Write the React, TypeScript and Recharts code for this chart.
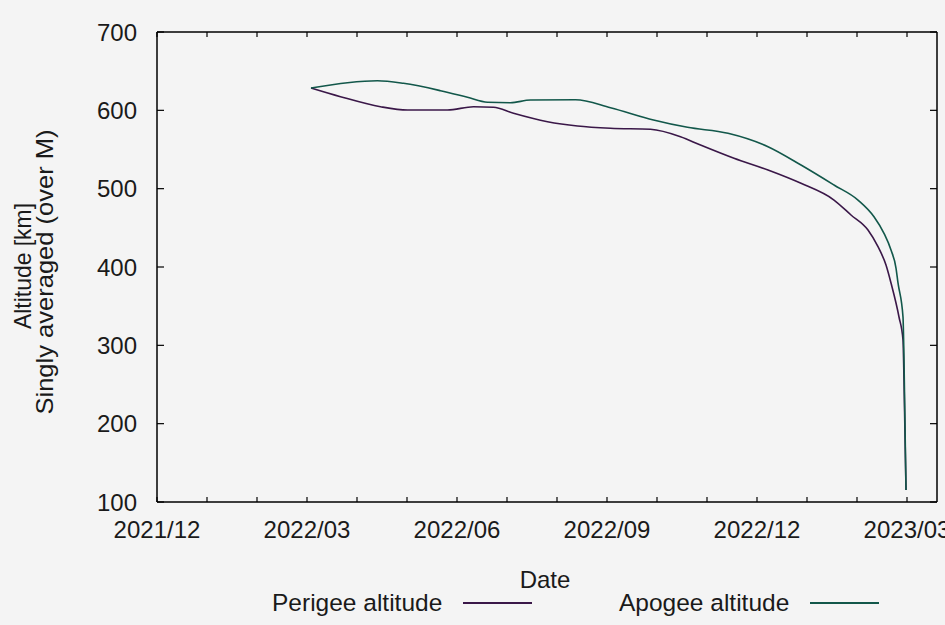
import React from "react"
import { Label, Line, LineChart, XAxis, YAxis } from "recharts"

// x = months since 2021/12/01
const perigeeMonths = [3.08, 3.67, 4.47, 5.01, 5.81, 6.33, 6.73, 7.13, 7.81, 8.41, 9.07, 9.87, 10.47, 10.87, 11.54, 12.22, 12.88, 13.54, 13.88, 14.22, 14.42, 14.58, 14.68, 14.84, 14.92, 14.94, 14.98]
const perigeeAlt = [628.5, 617.4, 604.6, 600.4, 600.4, 604.6, 603.9, 596.2, 585.5, 580.0, 577.1, 575.8, 566.3, 555.7, 538.8, 523.8, 506.8, 485.5, 466.4, 447.2, 425.9, 402.5, 379.6, 336.2, 306.8, 255.7, 115.3]

const apogeeMonths = [3.08, 3.81, 4.41, 4.93, 5.67, 6.21, 6.61, 7.07, 7.47, 8.37, 9.07, 9.93, 10.61, 11.42, 12.22, 12.88, 13.54, 14.02, 14.34, 14.54, 14.68, 14.78, 14.82, 14.92, 14.94, 14.98]
const apogeeAlt = [628.5, 635.3, 637.8, 634.5, 625.1, 616.6, 610.3, 609.7, 613.2, 613.6, 603.4, 587.7, 578.3, 570.7, 553.6, 530.2, 504.7, 485.5, 464.2, 443.0, 421.7, 398.7, 379.6, 336.2, 281.3, 115.3]

const xMinorTicks = [0, 1, 2, 3, 4, 5, 6, 7, 8, 9, 10, 11, 12, 13, 14, 15]
const xMajorTicks = [0, 3, 6, 9, 12, 15]
const xTickLabels = ["2021/12", "2022/03", "2022/06", "2022/09", "2022/12", "2023/03"]
const yTicks = [100, 200, 300, 400, 500, 600, 700]

const perigeeData = perigeeMonths.map((m, i) => ({ m, alt: perigeeAlt[i] }))
const apogeeData = apogeeMonths.map((m, i) => ({ m, alt: apogeeAlt[i] }))

// apogee is plotted on the mirrored (top/right) axes, which share the same domains
const series = [
  { name: "Perigee altitude", data: perigeeData, color: "#3a1748", left: 272, xAxis: "bottom", yAxis: "left" },
  { name: "Apogee altitude", data: apogeeData, color: "#12574a", left: 619, xAxis: "top", yAxis: "right" },
]

const FONT = "'Liberation Sans', Arial, sans-serif"
const TXT = "#1a1a1a"
const FS = 24
const X_DOMAIN = [0, 15.6]
const Y_DOMAIN = [100, 700]

const BottomTick = ({ x, y, payload }: any) => {
  const i = xMajorTicks.indexOf(payload.value)
  return (
    <g>
      <line x1={x} x2={x} y1={y} y2={y - 5} stroke="#000" strokeWidth={1.2} />
      {i >= 0 && (
        <text x={x} y={y + 27} textAnchor="middle" dominantBaseline="central" fontSize={FS} fontFamily={FONT} fill={TXT}>
          {xTickLabels[i]}
        </text>
      )}
    </g>
  )
}

const TopTick = ({ x, y }: any) => (
  <line x1={x} x2={x} y1={y} y2={y + 5} stroke="#000" strokeWidth={1.2} />
)

const LeftTick = ({ x, y, payload }: any) => (
  <g>
    <line x1={x} x2={x + 7} y1={y} y2={y} stroke="#000" strokeWidth={1.2} />
    <text x={x - 20} y={y} textAnchor="end" dominantBaseline="central" fontSize={FS} fontFamily={FONT} fill={TXT}>
      {payload.value}
    </text>
  </g>
)

const RightTick = ({ x, y }: any) => (
  <line x1={x} x2={x - 7} y1={y} y2={y} stroke="#000" strokeWidth={1.2} />
)

const YTitle = ({ viewBox }: any) => {
  const cy = viewBox.y + viewBox.height / 2
  const c1 = cy - 1
  const c2 = cy + 5
  return (
    <g fontSize={FS} fontFamily={FONT} fill={TXT} textAnchor="middle">
      <text x={22.5} y={c1} transform={`rotate(-90 22.5 ${c1})`} dominantBaseline="central" textLength={126} lengthAdjust="spacingAndGlyphs">
        Altitude [km]
      </text>
      <text x={44} y={c2} transform={`rotate(-90 44 ${c2})`} dominantBaseline="central" textLength={285} lengthAdjust="spacingAndGlyphs">
        Singly averaged (over M)
      </text>
    </g>
  )
}

const XTitle = ({ viewBox }: any) => (
  <text x={viewBox.x + viewBox.width / 2 - 2} y={viewBox.y + 77} textAnchor="middle" dominantBaseline="central" fontSize={FS} fontFamily={FONT} fill={TXT}>
    Date
  </text>
)

export default function App() {
  return (
    <div style={{ position: "absolute", left: 0, top: 0, width: 945, height: 625, background: "#f4f4f4", fontFamily: FONT }}>
      <LineChart width={945} height={625} margin={{ top: 31, right: 7, bottom: 83, left: 97 }}>
        <XAxis
          xAxisId="bottom"
          dataKey="m"
          type="number"
          domain={X_DOMAIN}
          ticks={xMinorTicks}
          interval={0}
          tickSize={0}
          tickMargin={0}
          height={40}
          tick={<BottomTick />}
          axisLine={{ stroke: "#000", strokeWidth: 1.5 }}
          allowDataOverflow
        >
          <Label content={<XTitle />} />
        </XAxis>
        <XAxis
          xAxisId="top"
          orientation="top"
          dataKey="m"
          type="number"
          domain={X_DOMAIN}
          ticks={xMinorTicks}
          interval={0}
          tickSize={0}
          tickMargin={0}
          height={1}
          tick={<TopTick />}
          axisLine={{ stroke: "#000", strokeWidth: 1.5 }}
          allowDataOverflow
        />
        <YAxis
          yAxisId="left"
          type="number"
          domain={Y_DOMAIN}
          ticks={yTicks}
          interval={0}
          tickSize={0}
          tickMargin={0}
          width={60}
          tick={<LeftTick />}
          axisLine={{ stroke: "#000", strokeWidth: 1.5 }}
          allowDataOverflow
        >
          <Label content={<YTitle />} />
        </YAxis>
        <YAxis
          yAxisId="right"
          orientation="right"
          type="number"
          domain={Y_DOMAIN}
          ticks={yTicks}
          interval={0}
          tickSize={0}
          tickMargin={0}
          width={1}
          tick={<RightTick />}
          axisLine={{ stroke: "#000", strokeWidth: 1.5 }}
          allowDataOverflow
        />
        {series.map((s) => (
          <Line
            key={s.name}
            xAxisId={s.xAxis}
            yAxisId={s.yAxis}
            data={s.data}
            dataKey="alt"
            name={s.name}
            type="monotone"
            stroke={s.color}
            strokeWidth={1.6}
            dot={false}
            activeDot={false}
            isAnimationActive={false}
          />
        ))}
      </LineChart>
      {series.map((s) => (
        <div
          key={s.name}
          style={{ position: "absolute", left: s.left, top: 589, display: "flex", alignItems: "center", fontSize: 24.5, color: TXT, lineHeight: "28px" }}
        >
          <span>{s.name}</span>
          <span style={{ display: "inline-block", width: 69, height: 0, borderTop: `2px solid ${s.color}`, marginLeft: 21 }} />
        </div>
      ))}
    </div>
  )
}
